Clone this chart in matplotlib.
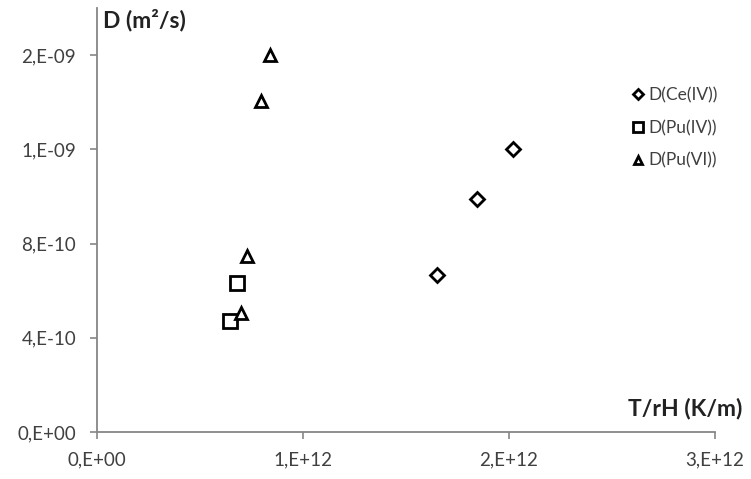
import matplotlib
matplotlib.use('Agg')
import matplotlib.pyplot as plt
from matplotlib.ticker import FuncFormatter

# values
ce_x = [1.65e12, 1.845e12, 2.02e12]
ce_y = [0.668e-9, 0.991e-9, 1.20e-9]
pu4_x = [0.646e12, 0.68e12]
pu4_y = [0.472e-9, 0.634e-9]
pu6_x = [0.70e12, 0.728e12, 0.796e12, 0.84e12]
pu6_y = [0.506e-9, 0.749e-9, 1.404e-9, 1.60e-9]
labels = ['D(Ce(IV))', 'D(Pu(IV))', 'D(Pu(VI))']

plt.rcParams['font.family'] = ['Lato', 'DejaVu Sans']
axis_grey = '#868686'
text_col = '#404040'


def excel_sci(v, pos):
    # Excel-style "0,E+00" labels
    s = '%.0E' % v
    mant, exp = s.split('E')
    return mant + ',E' + exp


fig = plt.figure(figsize=(7.51, 4.79), dpi=100)
ax = fig.add_axes([0.129, 0.098, 0.823, 0.885])

ax.plot(ce_x, ce_y, linestyle='none', marker='D', ms=7, mfc='white', mec='black', mew=2, label=labels[0])
ax.plot(pu4_x, pu4_y, linestyle='none', marker='s', ms=9.5, mfc='white', mec='black', mew=2, label=labels[1])
ax.plot(pu6_x, pu6_y, linestyle='none', marker='^', ms=8, mfc='white', mec='black', mew=2, label=labels[2])

ax.set_xlim(0, 3e12)
ax.set_ylim(0, 1.8e-9)
ax.set_xticks([0, 1e12, 2e12, 3e12])
ax.set_yticks([0, 0.4e-9, 0.8e-9, 1.2e-9, 1.6e-9])
ax.xaxis.set_major_formatter(FuncFormatter(excel_sci))
ax.yaxis.set_major_formatter(FuncFormatter(excel_sci))

for side in ['top', 'right']:
    ax.spines[side].set_visible(False)
for side in ['left', 'bottom']:
    ax.spines[side].set_color(axis_grey)
    ax.spines[side].set_linewidth(1.3)
ax.tick_params(length=5, width=1.2, color=axis_grey, labelsize=13.5, labelcolor=text_col)
ax.tick_params(axis='y', pad=10)
ax.tick_params(axis='x', pad=9)

ax.text(0.01, 0.998, 'D (m²/s)', transform=ax.transAxes, fontsize=16.5,
        fontweight='bold', color='#222222', va='top', ha='left')
ax.text(1.045, 0.03, 'T/rH (K/m)', transform=ax.transAxes, fontsize=16.5,
        fontweight='bold', color='#222222', va='bottom', ha='right', clip_on=False)

leg = ax.legend(loc='upper left', bbox_to_anchor=(0.835, 0.85), frameon=False,
                fontsize=12.5, handletextpad=0.05, handlelength=1.1, labelspacing=0.95,
                markerscale=0.8)
for t in leg.get_texts():
    t.set_color(text_col)

fig.savefig('out.png', dpi=100)
